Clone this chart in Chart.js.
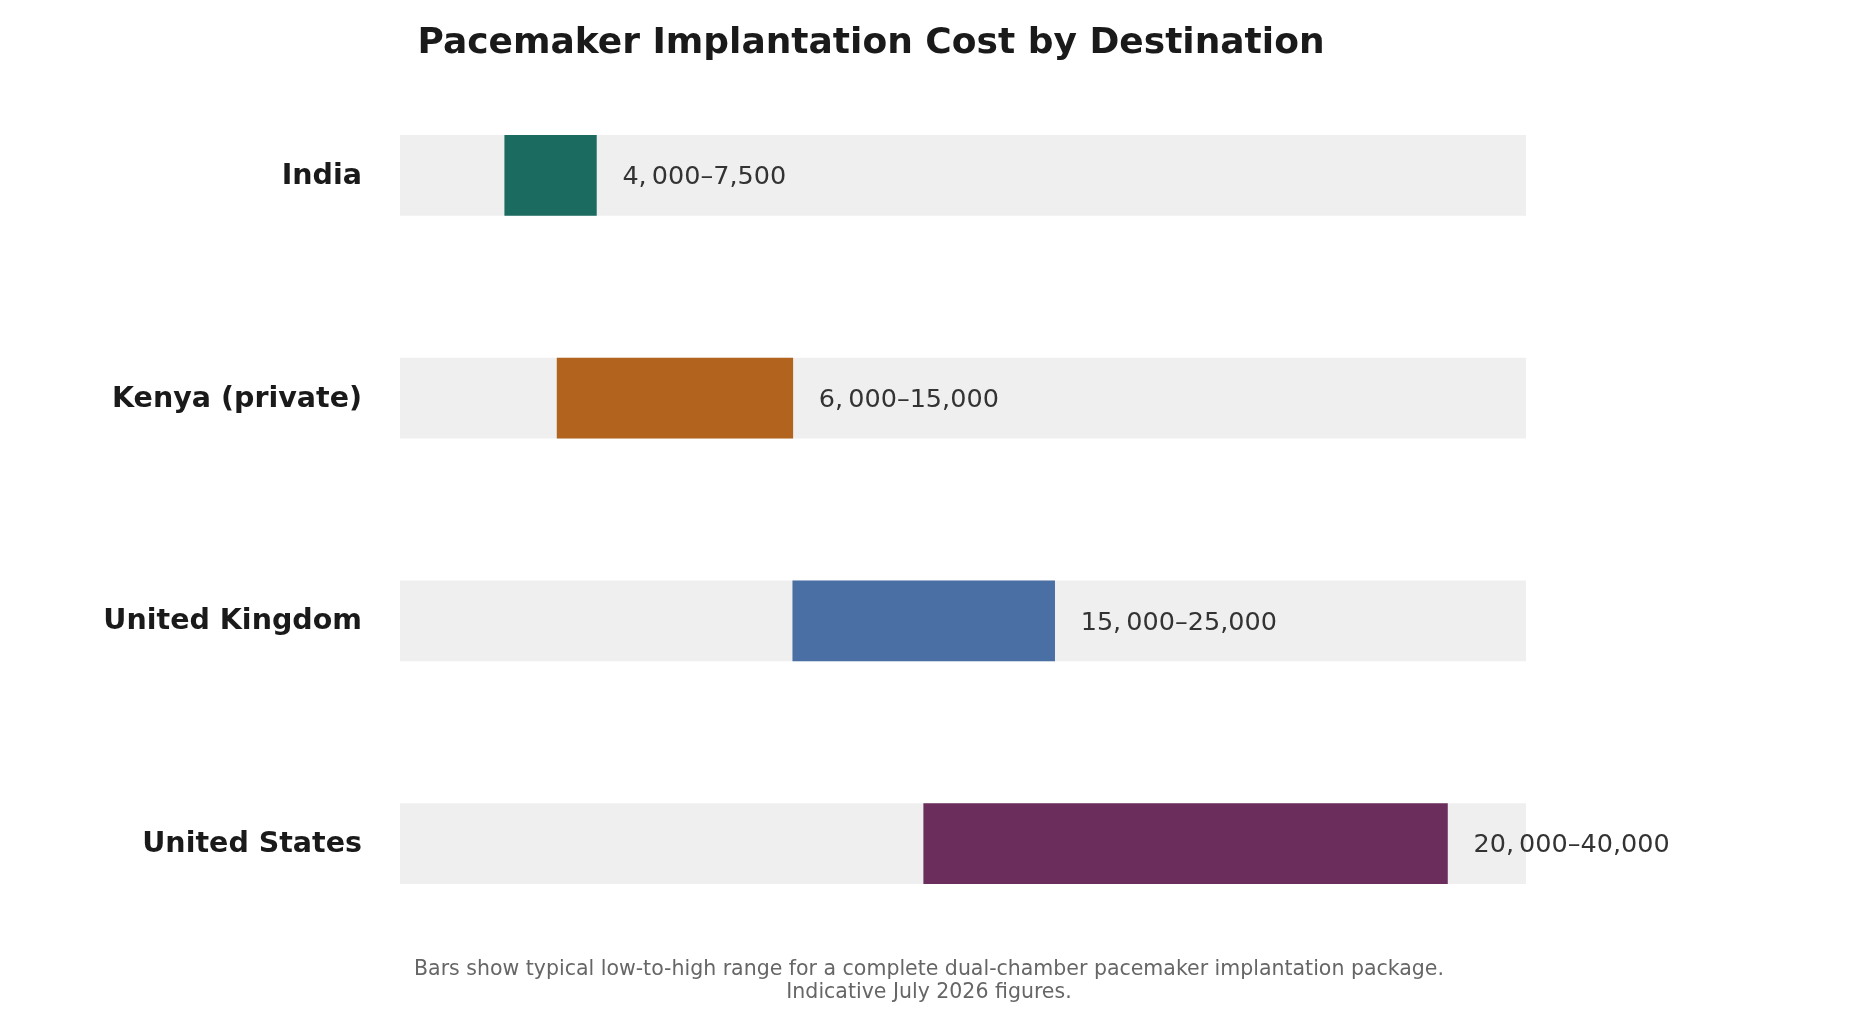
<!DOCTYPE html>
<html>
<head>
<meta charset="utf-8">
<style>
  html, body { margin: 0; padding: 0; background: #ffffff; }
  #wrap { width: 1859px; height: 1022px; position: relative; }
</style>
<script src="https://cdn.jsdelivr.net/npm/chart.js@4/dist/chart.umd.min.js"></script>
</head>
<body>
<div id="wrap"><canvas id="costChart" width="1859" height="1022"></canvas></div>
<script>
const destinations = ['India', 'Kenya (private)', 'United Kingdom', 'United States'];
const lowCost = [4000, 6000, 15000, 20000];   // low end of range (USD)
const highCost = [7500, 15000, 25000, 40000]; // high end of range (USD)
const rangeLabels = ['4,\u2009000–7,500', '6,\u2009000–15,000', '15,\u2009000–25,000', '20,\u2009000–40,000'];
const barColors = ['#1c6b61', '#b2641e', '#4a6fa5', '#6a2d5c'];
const axisMax = 43000;  // grey track runs 0 .. axisMax

const titleText = 'Pacemaker Implantation Cost by Destination';
const footLines = [
    'Bars show typical low-to-high range for a complete dual-chamber pacemaker implantation package.',
    'Indicative July 2026 figures.'
];

// floating bars: [low, high]
const ranges = destinations.map((d, i) => [lowCost[i], highCost[i]]);
const tracks = destinations.map(() => [0, axisMax]);

// title, footnote and the range text next to each bar
const textPlugin = {
    id: 'textPlugin',
    afterDatasetsDraw(chart) {
        const ctx = chart.ctx;
        const meta = chart.getDatasetMeta(1);
        ctx.save();
        ctx.font = '25.5px "DejaVu Sans"';
        ctx.fillStyle = '#333333';
        ctx.textAlign = 'left';
        ctx.textBaseline = 'middle';
        meta.data.forEach((bar, i) => {
            ctx.fillText(rangeLabels[i], bar.x + 26, bar.y + 2);
        });
        ctx.restore();
    },
    afterDraw(chart) {
        const ctx = chart.ctx;
        ctx.save();
        ctx.textAlign = 'center';
        ctx.textBaseline = 'middle';
        ctx.fillStyle = '#1a1a1a';
        ctx.font = 'bold 36px "DejaVu Sans"';
        ctx.fillText(titleText, 871, 44);

        ctx.fillStyle = '#666666';
        ctx.font = '20.5px "DejaVu Sans"';
        ctx.fillText(footLines[0], 929, 970);
        ctx.fillText(footLines[1], 929, 993);
        ctx.restore();
    }
};

const ctx = document.getElementById('costChart').getContext('2d');
const costChart = new Chart(ctx, {
    type: 'bar',
    data: {
        labels: destinations,
        datasets: [
            {
                label: 'track',
                data: tracks,
                backgroundColor: '#efefef',
                borderWidth: 0,
                barThickness: 80,
                grouped: false,
                order: 2
            },
            {
                label: 'Cost range (USD)',
                data: ranges,
                backgroundColor: barColors,
                borderWidth: 0,
                barThickness: 80,
                grouped: false,
                order: 1
            }
        ]
    },
    options: {
        indexAxis: 'y',
        responsive: false,
        animation: false,
        layout: {
            padding: { top: 64, bottom: 67, left: 0, right: 333 }
        },
        scales: {
            x: {
                display: false,
                min: 0,
                max: axisMax
            },
            y: {
                grid: { display: false, drawTicks: false },
                border: { display: false },
                afterFit(scale) { scale.width = 400; },
                ticks: {
                    padding: 38,
                    color: '#1a1a1a',
                    labelOffset: 1,
                    font: { family: 'DejaVu Sans', size: 28.5, weight: 'bold' }
                }
            }
        },
        plugins: {
            legend: { display: false },
            title: { display: false },
            tooltip: { enabled: false }
        }
    },
    plugins: [textPlugin]
});
</script>
</body>
</html>
